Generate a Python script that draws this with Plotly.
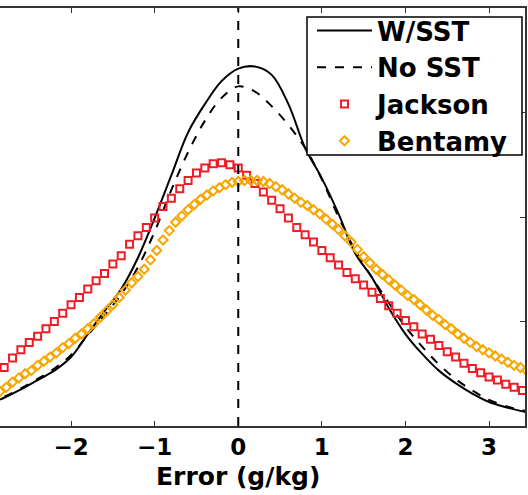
import numpy as np
import plotly.graph_objects as go

# ---- data ----
LINE_X_START, LINE_X_STEP = -3.0, 0.2
W_SST = [0.021, 0.027, 0.035, 0.044, 0.053, 0.066, 0.088, 0.110, 0.131, 0.161,
         0.199, 0.240, 0.281, 0.308, 0.330, 0.342, 0.344, 0.336, 0.308, 0.266,
         0.237, 0.203, 0.165, 0.142, 0.113, 0.088, 0.069, 0.053, 0.041, 0.031,
         0.023, 0.018, 0.014, 0.011]
NO_SST = [0.022, 0.028, 0.036, 0.045, 0.055, 0.068, 0.087, 0.106, 0.126, 0.152,
          0.186, 0.226, 0.262, 0.292, 0.314, 0.325, 0.320, 0.306, 0.288, 0.266,
          0.236, 0.200, 0.168, 0.142, 0.118, 0.095, 0.076, 0.059, 0.045, 0.034,
          0.025, 0.019, 0.015, 0.012]

JACKSON_X_START, JACKSON_X_STEP = -2.8, 0.1
JACKSON = [0.056, 0.065, 0.073, 0.080, 0.086, 0.093, 0.100, 0.108, 0.116, 0.123,
           0.131, 0.139, 0.146, 0.155, 0.163, 0.174, 0.182, 0.190, 0.199, 0.210,
           0.218, 0.227, 0.235, 0.242, 0.247, 0.251, 0.252, 0.250, 0.247, 0.240,
           0.232, 0.224, 0.216, 0.208, 0.199, 0.190, 0.183, 0.176, 0.168, 0.161,
           0.154, 0.147, 0.141, 0.135, 0.128, 0.122, 0.115, 0.108, 0.101, 0.095,
           0.088, 0.083, 0.077, 0.071, 0.066, 0.060, 0.055, 0.051, 0.047, 0.044,
           0.040, 0.037, 0.034]

BENTAMY_X_START, BENTAMY_X_STEP = -2.85, 0.075
BENTAMY = [0.033, 0.037, 0.042, 0.046, 0.050, 0.053, 0.058, 0.062, 0.066, 0.070,
           0.075, 0.079, 0.084, 0.088, 0.093, 0.098, 0.104, 0.110, 0.116, 0.123,
           0.130, 0.137, 0.143, 0.150, 0.159, 0.168, 0.178, 0.187, 0.195, 0.201,
           0.207, 0.212, 0.217, 0.221, 0.225, 0.228, 0.231, 0.233, 0.234, 0.235,
           0.235, 0.235, 0.234, 0.232, 0.229, 0.226, 0.222, 0.218, 0.214, 0.211,
           0.207, 0.203, 0.198, 0.193, 0.188, 0.182, 0.176, 0.169, 0.162, 0.156,
           0.150, 0.145, 0.140, 0.135, 0.130, 0.125, 0.121, 0.116, 0.111, 0.106,
           0.102, 0.097, 0.093, 0.088, 0.084, 0.080, 0.076, 0.073, 0.070, 0.067,
           0.064, 0.061, 0.058, 0.056, 0.053]

X_TICKS = [-2, -1, 0, 1, 2, 3]
Y_TICKS = [0.0, 0.1, 0.2, 0.3, 0.4]
X_RANGE = [-2.85, 3.43]
Y_RANGE = [0.0, 0.4]
ZERO_LINE = 0
X_TITLE = "Error (g/kg)"


def grid(start, step, n):
    return start + step * np.arange(n)


FONT = "DejaVu Sans"
RED = "#EE1C25"
ORANGE = "#F7A600"

# plot area geometry (pixels) used to place the legend frame
W, H = 528, 495
ML, MR, MT, MB = 0, 3, 8, 69
PW, PH = W - ML - MR, H - MT - MB


def px(xp):
    return (xp - ML) / PW


def py(yp):
    return (H - MB - yp) / PH


fig = go.Figure()
fig.add_trace(go.Scatter(x=grid(LINE_X_START, LINE_X_STEP, len(W_SST)), y=W_SST,
                         mode="lines", name="W/SST", line_shape="spline",
                         line=dict(color="black", width=2)))
fig.add_trace(go.Scatter(x=grid(LINE_X_START, LINE_X_STEP, len(NO_SST)), y=NO_SST,
                         mode="lines", name="No SST", line_shape="spline",
                         line=dict(color="black", width=2, dash="dash")))
fig.add_trace(go.Scatter(x=grid(JACKSON_X_START, JACKSON_X_STEP, len(JACKSON)), y=JACKSON,
                         mode="markers", name="Jackson",
                         marker=dict(symbol="square-open", size=7, color=RED,
                                     line=dict(width=2, color=RED))))
fig.add_trace(go.Scatter(x=grid(BENTAMY_X_START, BENTAMY_X_STEP, len(BENTAMY)), y=BENTAMY,
                         mode="markers", name="Bentamy",
                         marker=dict(symbol="diamond-open", size=7, color=ORANGE,
                                     line=dict(width=2, color=ORANGE))))

fig.add_vline(x=ZERO_LINE, line=dict(color="black", width=2, dash="dash"))

# legend frame
fig.add_shape(type="rect", xref="paper", yref="paper",
              x0=px(307), x1=px(522), y0=py(155), y1=py(17),
              line=dict(color="black", width=1.5), fillcolor="white", layer="above")

fig.add_annotation(x=0, xref="x", y=-0.122, yref="paper", text=X_TITLE,
                   showarrow=False, yanchor="middle",
                   font=dict(family=FONT, size=25, color="black", weight="bold"))

fig.update_layout(
    width=W, height=H,
    margin=dict(l=ML, r=MR, t=MT, b=MB),
    plot_bgcolor="white", paper_bgcolor="white",
    showlegend=True,
    legend=dict(x=px(312), y=py(7), xanchor="left", yanchor="top",
                bgcolor="rgba(0,0,0,0)", borderwidth=0,
                font=dict(family=FONT, size=26, color="black", weight="bold"),
                itemwidth=55, tracegroupgap=0),
    xaxis=dict(range=X_RANGE, tickvals=X_TICKS, ticks="inside", ticklen=5,
               tickcolor="#333", showline=True, linecolor="#333", linewidth=1.5,
               mirror="ticks", showgrid=False, zeroline=False,
               tickfont=dict(family=FONT, size=23, color="black", weight="bold")),
    yaxis=dict(range=Y_RANGE, tickvals=Y_TICKS, ticks="inside", ticklen=5,
               tickcolor="#333", side="right", showline=True, linecolor="#333",
               linewidth=1.5, showticklabels=False, showgrid=False, zeroline=False),
)

fig.write_html("out.html")
